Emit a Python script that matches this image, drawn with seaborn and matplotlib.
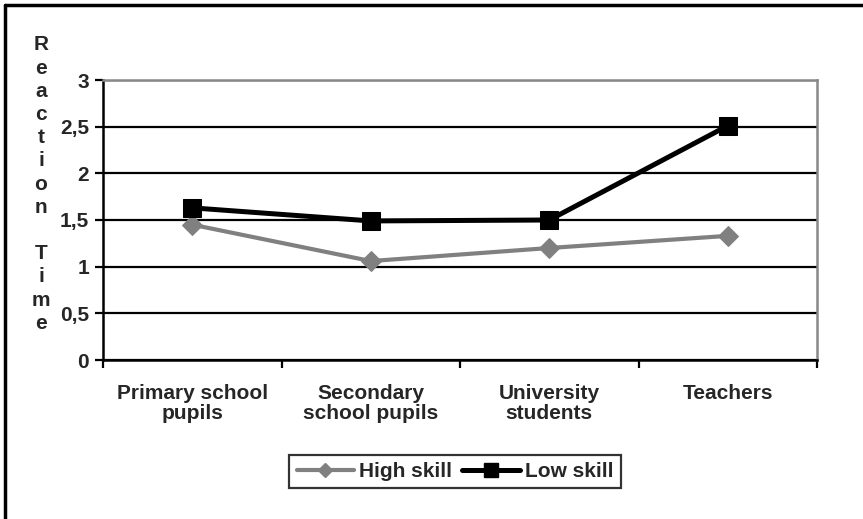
import matplotlib
matplotlib.use("Agg")
import matplotlib.pyplot as plt
import seaborn as sns
import pandas as pd
from matplotlib.lines import Line2D

# Data
groups = ["Primary school\npupils", "Secondary\nschool pupils", "University\nstudents", "Teachers"]
high_skill = [1.45, 1.06, 1.20, 1.33]
low_skill = [1.63, 1.49, 1.50, 2.51]
y_ticks = [0, 0.5, 1, 1.5, 2, 2.5, 3]
y_tick_labels = ["0", "0,5", "1", "1,5", "2", "2,5", "3"]
y_label = "Reaction Time"

sns.set_theme(style="white")
plt.rcParams["font.family"] = ["Liberation Sans", "DejaVu Sans"]
plt.rcParams["font.weight"] = "bold"
FS = 15

df = pd.DataFrame({
    "group": groups * 2,
    "pos": list(range(len(groups))) * 2,
    "value": high_skill + low_skill,
    "series": ["High skill"] * len(groups) + ["Low skill"] * len(groups),
})

fig = plt.figure(figsize=(8.63, 5.19), dpi=100)
ax = fig.add_axes([103 / 863, 1 - 360 / 519, (817 - 103) / 863, (360 - 80) / 519])

sns.lineplot(data=df[df.series == "High skill"], x="pos", y="value", ax=ax,
             color="#808080", lw=3.0, marker="D", markersize=10,
             markeredgecolor="#808080", sort=False, legend=False)
sns.lineplot(data=df[df.series == "Low skill"], x="pos", y="value", ax=ax,
             color="black", lw=3.6, marker="s", markersize=13,
             markeredgecolor="black", sort=False, legend=False)

ax.set_xlim(-0.5, len(groups) - 0.5)
ax.set_ylim(0, 3)
ax.set_yticks(y_ticks)
ax.set_yticklabels(y_tick_labels, fontsize=FS, fontweight="bold")
ax.yaxis.grid(True, color="black", lw=1.6)
ax.set_axisbelow(True)

# category labels centred, tick marks on the boundaries
ax.set_xticks([i + 0.5 for i in range(-1, len(groups))])
ax.set_xticklabels([])
ax.set_xticks(list(range(len(groups))), minor=True)
ax.set_xticklabels(groups, minor=True, fontsize=FS, fontweight="bold", linespacing=1.12)
ax.tick_params(axis="x", which="minor", length=0, pad=17)
ax.tick_params(axis="x", which="major", length=6, width=1.6, color="black", direction="out", bottom=True)
ax.tick_params(axis="y", length=6, width=1.6, color="black", direction="out", left=True, pad=4)
ax.set_xlabel("")
ax.set_ylabel("")

for side in ["left", "bottom"]:
    ax.spines[side].set_color("black")
    ax.spines[side].set_linewidth(1.8)
for side in ["top", "right"]:
    ax.spines[side].set_color("#888888")
    ax.spines[side].set_linewidth(1.8)

# stacked vertical axis title
letters = list(y_label)
y0, step = 45, 23.2
for i, ch in enumerate(letters):
    fig.text(41 / 863, 1 - (y0 + i * step) / 519, ch, ha="center", va="center",
             fontsize=FS, fontweight="bold")

handles = [
    Line2D([], [], color="#808080", lw=3.0, marker="D", markersize=7),
    Line2D([], [], color="black", lw=3.6, marker="s", markersize=10),
]
leg = fig.legend(handles, ["High skill", "Low skill"], loc="center",
                 bbox_to_anchor=(455 / 863, 1 - 471.5 / 519), ncol=2,
                 frameon=True, fancybox=False, handlelength=2.75, handletextpad=0.25,
                 columnspacing=0.5, borderpad=0.35, borderaxespad=0,
                 prop={"size": FS, "weight": "bold"})
leg.get_frame().set_edgecolor("black")
leg.get_frame().set_linewidth(1.6)

# outer frame: top and left edges
fig.add_artist(Line2D([5 / 863, 5 / 863], [0, 1 - 5 / 519], transform=fig.transFigure, color="black", lw=2.5))
fig.add_artist(Line2D([5 / 863, 1], [1 - 5 / 519, 1 - 5 / 519], transform=fig.transFigure, color="black", lw=2.5))

fig.savefig("out.png", dpi=100)
